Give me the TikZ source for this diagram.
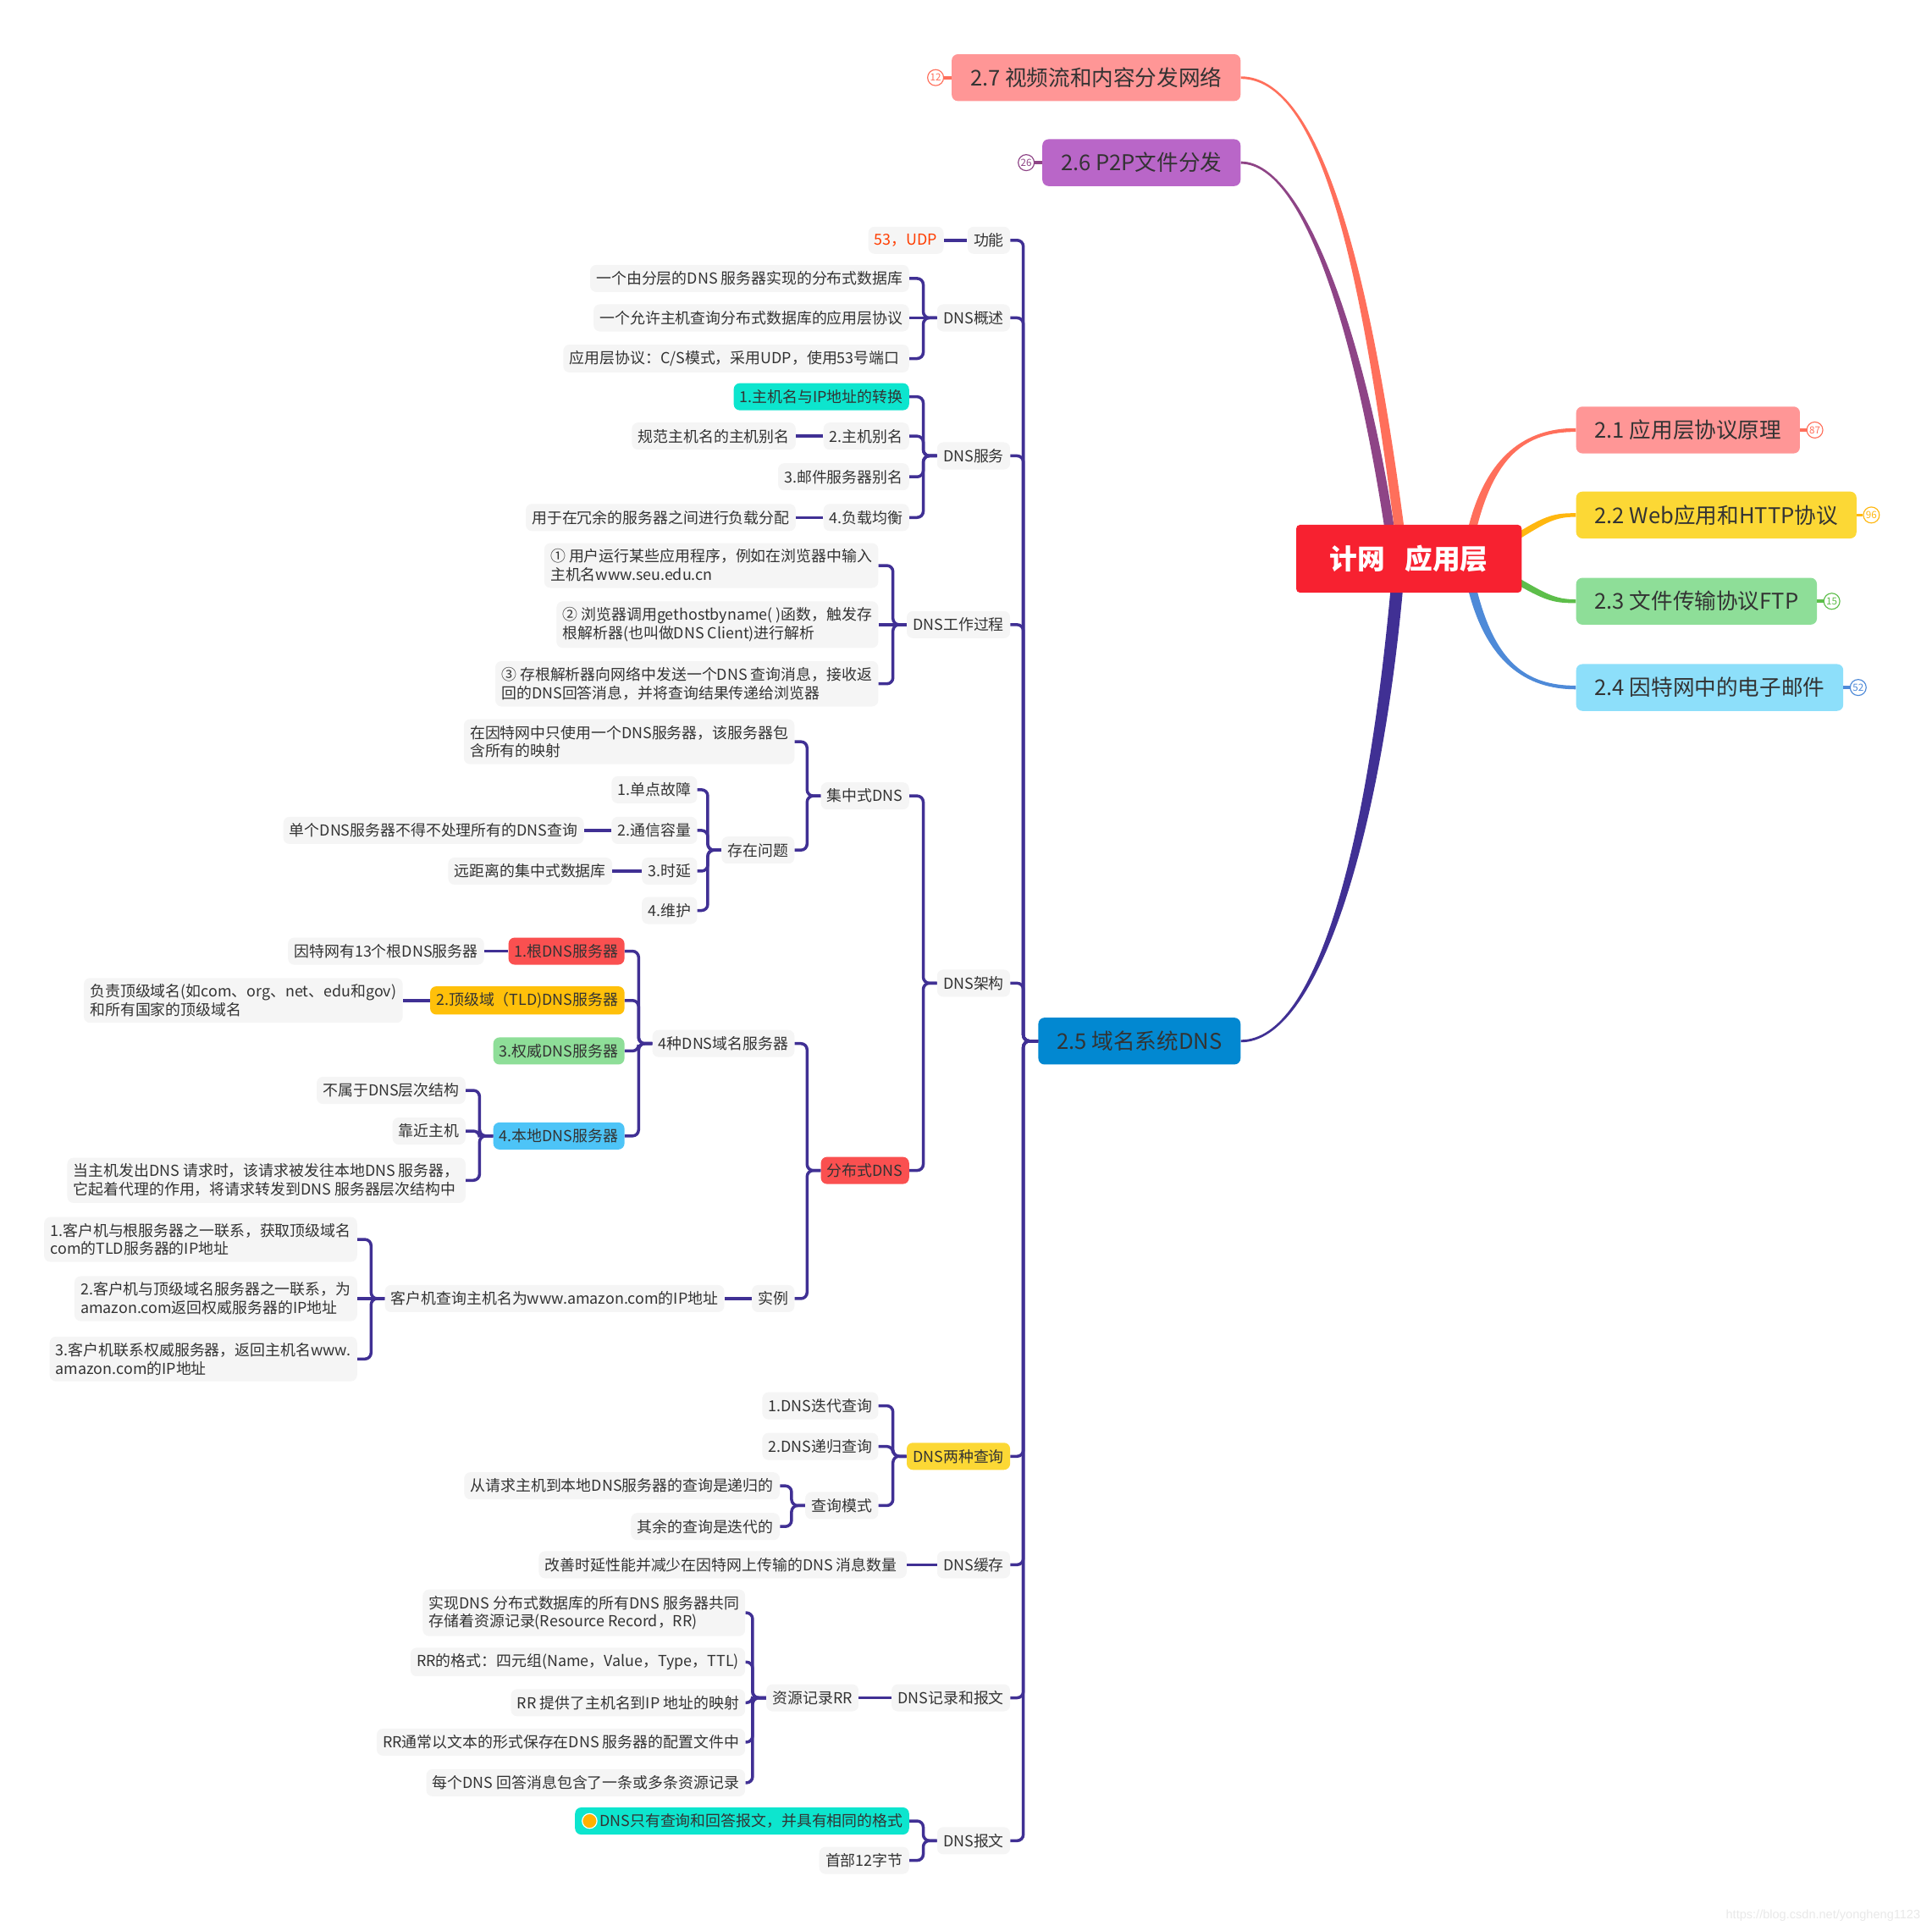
\documentclass[tikz,border=0pt]{standalone}
\usepackage{fontspec}
\setmainfont{Noto Sans CJK SC}
\newfontfamily\wmfont{Liberation Sans}
\usetikzlibrary{calc,positioning}
\pgfdeclarelayer{bg}
\pgfsetlayers{bg,main}

\definecolor{txt}{RGB}{51,51,51}
\definecolor{leafgray}{RGB}{245,245,245}
\definecolor{linec}{RGB}{64,48,148}
\definecolor{tealc}{RGB}{13,229,206}
\definecolor{redn}{RGB}{250,80,80}
\definecolor{amber}{RGB}{255,192,10}
\definecolor{greenn}{RGB}{142,222,152}
\definecolor{bluen}{RGB}{77,196,247}
\definecolor{yellown}{RGB}{252,216,53}
\definecolor{udpc}{RGB}{255,61,0}
\definecolor{dotc}{RGB}{255,177,0}
\definecolor{rootc}{RGB}{247,33,48}
\definecolor{pinkc}{RGB}{255,150,150}
\definecolor{purplec}{RGB}{185,102,200}
\definecolor{skyc}{RGB}{141,223,250}
\definecolor{dnsc}{RGB}{2,136,209}
\definecolor{coral}{RGB}{255,111,91}
\definecolor{goldc}{RGB}{255,183,15}
\definecolor{grass}{RGB}{93,190,74}
\definecolor{azure}{RGB}{78,138,216}
\definecolor{plum}{RGB}{142,68,134}
\definecolor{wm}{RGB}{232,232,232}

\begin{document}
\begin{tikzpicture}[x=1pt,y=-1pt]
    \tikzstyle{leaf}=[anchor=east, fill=leafgray, rounded corners=5pt, inner xsep=5pt, inner ysep=5pt, minimum height=22pt, align=left, text=txt, font=\fontsize{12.3}{15}\selectfont]
    \tikzstyle{topic}=[rounded corners=5pt, minimum height=38pt, inner xsep=15pt, text=txt, font=\fontsize{17.6}{20}\selectfont]
    \tikzstyle{cnt}=[circle, draw, fill=white, inner sep=0pt, minimum size=13pt, line width=0.8pt, font=\fontsize{8}{9}\selectfont]
    \tikzstyle{link}=[draw=linec, line width=2.4pt, rounded corners=5pt]

    \useasboundingbox (0,0) rectangle (1568,1567);

    % main topics
    \node[topic, fill=rootc, text=white, font=\fontsize{22.5}{24}\selectfont\bfseries, minimum width=183pt, minimum height=55pt, rounded corners=3pt] (root) at (1143.5,453.5) {计网\hspace{0.7em}应用层};
    \node[topic, fill=pinkc, anchor=east] (b27) at (1007,63) {2.7 视频流和内容分发网络};
    \node[topic, fill=purplec, anchor=east] (b26) at (1007,132) {2.6 P2P文件分发};
    \node[topic, fill=dnsc, anchor=east] (dns) at (1007,845) {2.5 域名系统DNS};
    \node[topic, fill=pinkc, anchor=west] (b21) at (1279,349) {2.1 应用层协议原理};
    \node[topic, fill=yellown, anchor=west] (b22) at (1279,418) {2.2 Web应用和HTTP协议};
    \node[topic, fill=greenn, anchor=west] (b23) at (1279,488) {2.3 文件传输协议FTP};
    \node[topic, fill=skyc, anchor=west] (b24) at (1279,558) {2.4 因特网中的电子邮件};

    \node[cnt, draw=coral, text=coral, left=6pt of b27] (n27) {12};
    \node[cnt, draw=plum, text=plum, left=6pt of b26] (n26) {26};
    \node[cnt, draw=coral, text=coral, right=5pt of b21] (n21) {87};
    \node[cnt, draw=goldc, text=goldc, right=5pt of b22] (n22) {96};
    \node[cnt, draw=grass, text=grass, right=5pt of b23] (n23) {15};
    \node[cnt, draw=azure, text=azure, right=5pt of b24] (n24) {52};
    \draw[coral, line width=2.5pt] (b27.west) -- (n27.east);
    \draw[plum, line width=2.5pt] (b26.west) -- (n26.east);
    \draw[coral, line width=2.5pt] (b21.east) -- (n21.west);
    \draw[goldc, line width=2.5pt] (b22.east) -- (n22.west);
    \draw[grass, line width=2.5pt] (b23.east) -- (n23.west);
    \draw[azure, line width=2.5pt] (b24.east) -- (n24.west);

    \begin{pgfonlayer}{bg}
        \fill[plum] ($(root.north)+(-12,2)$) .. controls (1109,280) and (1060,131) .. ($(b26.east)+(0,-1)$) -- ($(b26.east)+(0,1)$) .. controls (1060,133) and (1101,280) .. ($(root.north)+(-20,2)$) -- cycle;
        \fill[coral] ($(root.north)+(-4,2)$) .. controls (1116,250) and (1078,62) .. ($(b27.east)+(0,-1)$) -- ($(b27.east)+(0,1)$) .. controls (1078,64) and (1108,250) .. ($(root.north)+(-12,2)$) -- cycle;
        \fill[linec] ($(root.south)+(-15,-2)$) .. controls (1110,680) and (1070,844) .. ($(dns.east)+(0,-1)$) -- ($(dns.east)+(0,1)$) .. controls (1070,846) and (1120,680) .. ($(root.south)+(-5,-2)$) -- cycle;
        \fill[coral] ($(root.north east)+(-36.5,2)$) .. controls (1213.5,370) and (1238,350.5) .. ($(b21.west)+(0,1.5)$) -- ($(b21.west)+(0,-1.5)$) .. controls (1238,347.5) and (1206.5,370) .. ($(root.north east)+(-43.5,2)$) -- cycle;
        \fill[goldc] ($(root.east)+(-3,-21.5)$) .. controls (1255,418) and (1262,416.5) .. ($(b22.west)+(0,-1.5)$) -- ($(b22.west)+(0,1.5)$) .. controls (1262,419.5) and (1255,424) .. ($(root.east)+(-3,-15.5)$) -- cycle;
        \fill[grass] ($(root.east)+(-3,15.5)$) .. controls (1255,482) and (1262,486.5) .. ($(b23.west)+(0,-1.5)$) -- ($(b23.west)+(0,1.5)$) .. controls (1262,489.5) and (1255,488) .. ($(root.east)+(-3,21.5)$) -- cycle;
        \fill[azure] ($(root.south east)+(-43.5,-2)$) .. controls (1206.5,537) and (1238,559.5) .. ($(b24.west)+(0,1.5)$) -- ($(b24.west)+(0,-1.5)$) .. controls (1238,556.5) and (1213.5,537) .. ($(root.south east)+(-36.5,-2)$) -- cycle;
    \end{pgfonlayer}

    % level 1
    \node[leaf] (gn) at (820,195) {功能};
    \node[leaf] (gs) at (820,258) {DNS概述};
    \node[leaf] (fw) at (820,370) {DNS服务};
    \node[leaf] (gc) at (820,507) {DNS工作过程};
    \node[leaf] (jg) at (820,798) {DNS架构};
    \node[leaf, fill=yellown] (cx) at (820,1182) {DNS两种查询};
    \node[leaf] (hc) at (820,1270) {DNS缓存};
    \node[leaf] (jl) at (820,1378) {DNS记录和报文};
    \node[leaf] (bw) at (820,1494) {DNS报文};

    \node[leaf, text=udpc] (udp) at (766,195) {53，UDP};

    \node[leaf] (s1) at (738,226) {一个由分层的DNS 服务器实现的分布式数据库};
    \node[leaf] (s2) at (738,258) {一个允许主机查询分布式数据库的应用层协议};
    \node[leaf] (s3) at (738,291) {应用层协议：C/S模式，采用UDP，使用53号端口\ };

    \node[leaf, fill=tealc] (f1) at (738,322) {1.主机名与IP地址的转换};
    \node[leaf] (f2) at (738,354) {2.主机别名};
    \node[leaf] (f3) at (738,387) {3.邮件服务器别名};
    \node[leaf] (f4) at (738,420) {4.负载均衡};
    \node[leaf] (f2a) at (646,354) {规范主机名的主机别名};
    \node[leaf] (f4a) at (646,420) {用于在冗余的服务器之间进行负载分配};

    \node[leaf] (w1) at (713,459) {① 用户运行某些应用程序，例如在浏览器中输入\\主机名www.seu.edu.cn};
    \node[leaf] (w2) at (713,507) {② 浏览器调用gethostbyname( )函数，触发存\\根解析器(也叫做DNS Client)进行解析};
    \node[leaf] (w3) at (713,555) {③ 存根解析器向网络中发送一个DNS 查询消息，接收返\\回的DNS回答消息，并将查询结果传递给浏览器};

    \node[leaf] (jz) at (738,646) {集中式DNS};
    \node[leaf, fill=redn] (fb) at (738,950) {分布式DNS};
    \node[leaf] (jz1) at (645,602) {在因特网中只使用一个DNS服务器，该服务器包\\含所有的映射};
    \node[leaf] (wt) at (645,690) {存在问题};
    \node[leaf] (p1) at (566,641) {1.单点故障};
    \node[leaf] (p2) at (566,674) {2.通信容量};
    \node[leaf] (p3) at (566,707) {3.时延};
    \node[leaf] (p4) at (566,739) {4.维护};
    \node[leaf] (p2a) at (474,674) {单个DNS服务器不得不处理所有的DNS查询};
    \node[leaf] (p3a) at (497,707) {远距离的集中式数据库};

    \node[leaf] (sz) at (645,847) {4种DNS域名服务器};
    \node[leaf] (sl) at (645,1054) {实例};
    \node[leaf, fill=redn] (r1) at (507,772) {1.根DNS服务器};
    \node[leaf, fill=amber] (r2) at (507,812) {2.顶级域（TLD)DNS服务器};
    \node[leaf, fill=greenn] (r3) at (507,853) {3.权威DNS服务器};
    \node[leaf, fill=bluen] (r4) at (507,922) {4.本地DNS服务器};
    \node[leaf] (r1a) at (393,772) {因特网有13个根DNS服务器};
    \node[leaf] (r2a) at (327,812) {负责顶级域名(如com、org、net、edu和gov)\\和所有国家的顶级域名};
    \node[leaf] (l1) at (378,885) {不属于DNS层次结构};
    \node[leaf] (l2) at (378,918) {靠近主机};
    \node[leaf] (l3) at (378,958) {当主机发出DNS 请求时，该请求被发往本地DNS 服务器，\\它起着代理的作用，将请求转发到DNS 服务器层次结构中};
    \node[leaf] (sla) at (588,1054) {客户机查询主机名为www.amazon.com的IP地址};
    \node[leaf] (e1) at (290,1006) {1.客户机与根服务器之一联系，获取顶级域名\\com的TLD服务器的IP地址};
    \node[leaf] (e2) at (290,1054) {2.客户机与顶级域名服务器之一联系，为\\amazon.com返回权威服务器的IP地址};
    \node[leaf] (e3) at (290,1103) {3.客户机联系权威服务器，返回主机名www.\\amazon.com的IP地址};

    \node[leaf] (q1) at (713,1141) {1.DNS迭代查询};
    \node[leaf] (q2) at (713,1174) {2.DNS递归查询};
    \node[leaf] (q3) at (713,1222) {查询模式};
    \node[leaf] (m1) at (633,1206) {从请求主机到本地DNS服务器的查询是递归的};
    \node[leaf] (m2) at (633,1239) {其余的查询是迭代的};

    \node[leaf] (hca) at (736,1270) {改善时延性能并减少在因特网上传输的DNS 消息数量\ };

    \node[leaf] (rr) at (697,1378) {资源记录RR};
    \node[leaf] (k1) at (605,1309) {实现DNS 分布式数据库的所有DNS 服务器共同\\存储着资源记录(Resource Record，RR)};
    \node[leaf] (k2) at (605,1349) {RR的格式：四元组(Name，Value，Type，TTL)};
    \node[leaf] (k3) at (605,1382) {RR 提供了主机名到IP 地址的映射};
    \node[leaf] (k4) at (605,1414) {RR通常以文本的形式保存在DNS 服务器的配置文件中};
    \node[leaf] (k5) at (605,1447) {每个DNS 回答消息包含了一条或多条资源记录};

    \node[leaf, fill=tealc] (d1) at (738,1478) {\hspace{15pt}DNS只有查询和回答报文，并具有相同的格式};
    \node[leaf] (d2) at (738,1510) {首部12字节};
    \fill[dotc, draw=white, line width=0.8pt] ($(d1.west)+(12,0)$) circle (6);

    \node[font=\wmfont\fontsize{10}{12}\selectfont, text=wm, anchor=east] (wmk) at (1562,1555) {https://blog.csdn.net/yongheng1123};

    % connectors
    \foreach \c in {gn,gs,fw,gc,jg,cx,hc,jl,bw}
        \draw[link] (dns.west) -- ++(-12,0) |- (\c.east);
    \draw[link] (gn.west) -- (udp.east);
    \foreach \c in {s1,s3}
        \draw[link] (gs.west) -- ++(-11,0) |- (\c.east);
    \draw[link] (gs.west) -- (s2.east);
    \foreach \c in {f1,f2,f3,f4}
        \draw[link] (fw.west) -- ++(-11,0) |- (\c.east);
    \draw[link] (f2.west) -- (f2a.east);
    \draw[link] (f4.west) -- (f4a.east);
    \foreach \c in {w1,w3}
        \draw[link] (gc.west) -- ++(-11,0) |- (\c.east);
    \draw[link] (gc.west) -- (w2.east);
    \foreach \c in {jz,fb}
        \draw[link] (jg.west) -- ++(-11,0) |- (\c.east);
    \foreach \c in {jz1,wt}
        \draw[link] (jz.west) -- ++(-11,0) |- (\c.east);
    \foreach \c in {p1,p2,p3,p4}
        \draw[link] (wt.west) -- ++(-11,0) |- (\c.east);
    \draw[link] (p2.west) -- (p2a.east);
    \draw[link] (p3.west) -- (p3a.east);
    \foreach \c in {sz,sl}
        \draw[link] (fb.west) -- ++(-11,0) |- (\c.east);
    \foreach \c in {r1,r2,r3,r4}
        \draw[link] (sz.west) -- ++(-11,0) |- (\c.east);
    \draw[link] (r1.west) -- (r1a.east);
    \draw[link] (r2.west) -- (r2a.east);
    \foreach \c in {l1,l2,l3}
        \draw[link] (r4.west) -- ++(-11,0) |- (\c.east);
    \draw[link] (sl.west) -- (sla.east);
    \foreach \c in {e1,e3}
        \draw[link] (sla.west) -- ++(-11,0) |- (\c.east);
    \draw[link] (sla.west) -- (e2.east);
    \foreach \c in {q1,q2,q3}
        \draw[link] (cx.west) -- ++(-11,0) |- (\c.east);
    \foreach \c in {m1,m2}
        \draw[link] (q3.west) -- ++(-11,0) |- (\c.east);
    \draw[link] (hc.west) -- (hca.east);
    \draw[link] (jl.west) -- (rr.east);
    \foreach \c in {k1,k2,k3,k4,k5}
        \draw[link] (rr.west) -- ++(-11,0) |- (\c.east);
    \foreach \c in {d1,d2}
        \draw[link] (bw.west) -- ++(-11,0) |- (\c.east);
\end{tikzpicture}
\end{document}
